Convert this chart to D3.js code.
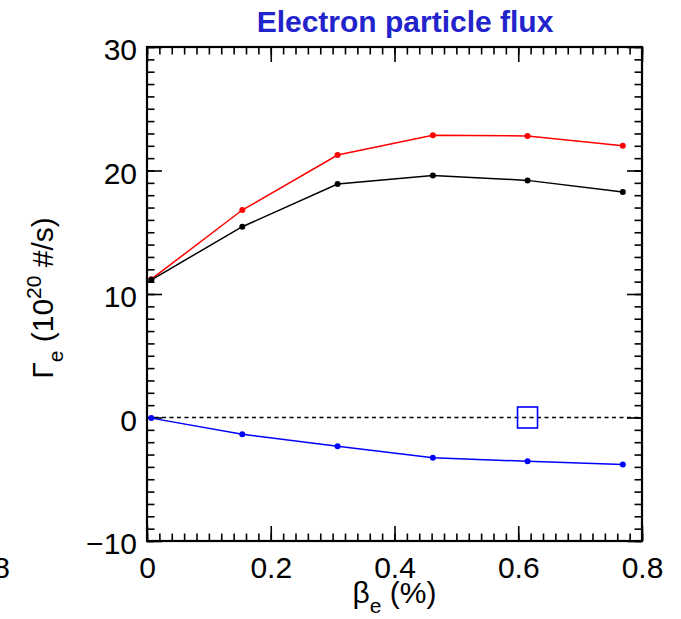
<!DOCTYPE html>
<html>
<head>
<meta charset="utf-8">
<script src="https://cdn.jsdelivr.net/npm/d3@7"></script>
<style>
  body { margin: 0; background: #fff; }
  svg { font-family: "Liberation Sans", Arial, Helvetica, sans-serif; }
</style>
</head>
<body>
<div id="chart"></div>
<script>
// beta_e (%) for each run
const betaVals = [0.007, 0.154, 0.308, 0.462, 0.615, 0.769];
// particle flux, 10^20 #/s
const fluxRed = [11.2, 16.8, 21.25, 22.85, 22.8, 22.0];
const fluxBlack = [11.15, 15.45, 18.9, 19.6, 19.2, 18.25];
const fluxBlue = [-0.05, -1.35, -2.33, -3.25, -3.55, -3.8];
// single square marker
const markX = [0.615];
const markY = [0];

const xTicks = [0, 0.2, 0.4, 0.6, 0.8];
const yTicks = [-10, 0, 10, 20, 30];

const cfg = {
    width: 681,
    height: 619,
    margin: { top: 47, right: 39, bottom: 78, left: 147 },
    major: 15,
    minor: 7.5,
    font: "30px"
};

const w = cfg.width - cfg.margin.left - cfg.margin.right,
    h = cfg.height - cfg.margin.top - cfg.margin.bottom;

const x = d3.scaleLinear().domain([0, 0.8]).range([0, w]);
const y = d3.scaleLinear().domain([-10, 30]).range([h, 0]);

const root = d3.select("#chart").append("svg")
    .attr("width", cfg.width)
    .attr("height", cfg.height);

const svg = root.append("g")
    .attr("transform", "translate(" + cfg.margin.left + "," + cfg.margin.top + ")");

// minor ticks (every 0.02 on x, every 1 on y)
const xMinor = d3.range(0, 0.8001, 0.02);
const yMinor = d3.range(-10, 30.001, 1);

function styleAxis(g) {
    g.select(".domain").remove();
    g.selectAll("line").attr("stroke", "#000").attr("stroke-width", 1.6);
    g.selectAll("text").attr("fill", "#000").style("font-size", cfg.font);
}

// bottom
svg.append("g").attr("transform", "translate(0," + h + ")")
    .call(d3.axisBottom(x).tickValues(xMinor).tickSize(-cfg.minor).tickFormat(""))
    .call(styleAxis);
svg.append("g").attr("transform", "translate(0," + h + ")")
    .call(d3.axisBottom(x).tickValues(xTicks).tickSize(-cfg.major).tickPadding(16).tickFormat(d3.format("")))
    .call(styleAxis);
// top
svg.append("g")
    .call(d3.axisTop(x).tickValues(xMinor).tickSize(-cfg.minor).tickFormat(""))
    .call(styleAxis);
svg.append("g")
    .call(d3.axisTop(x).tickValues(xTicks).tickSize(-cfg.major).tickFormat(""))
    .call(styleAxis);
// left
svg.append("g")
    .call(d3.axisLeft(y).tickValues(yMinor).tickSize(-cfg.minor).tickFormat(""))
    .call(styleAxis);
svg.append("g")
    .call(d3.axisLeft(y).tickValues(yTicks).tickSize(-cfg.major).tickPadding(10))
    .call(styleAxis)
    .selectAll("text").attr("dy", "0.42em");
// right
svg.append("g").attr("transform", "translate(" + w + ",0)")
    .call(d3.axisRight(y).tickValues(yMinor).tickSize(-cfg.minor).tickFormat(""))
    .call(styleAxis);
svg.append("g").attr("transform", "translate(" + w + ",0)")
    .call(d3.axisRight(y).tickValues(yTicks).tickSize(-cfg.major).tickFormat(""))
    .call(styleAxis);

// frame
svg.append("rect")
    .attr("width", w).attr("height", h)
    .attr("fill", "none").attr("stroke", "#000").attr("stroke-width", 2.2);

// zero line
svg.append("line")
    .attr("x1", 0).attr("x2", w)
    .attr("y1", y(0)).attr("y2", y(0))
    .attr("stroke", "#000").attr("stroke-width", 1.4)
    .attr("stroke-dasharray", "4,3.5");

const line = d3.line()
    .x((d) => x(d[0]))
    .y((d) => y(d[1]));

const series = [
    { vals: fluxRed, color: "#ff0000" },
    { vals: fluxBlack, color: "#000000" },
    { vals: fluxBlue, color: "#0000ff" }
];

series.forEach((s) => {
    const pts = betaVals.map((b, i) => [b, s.vals[i]]);
    svg.append("path")
        .datum(pts)
        .attr("fill", "none")
        .attr("stroke", s.color)
        .attr("stroke-width", 1.5)
        .attr("d", line);
    svg.selectAll(null)
        .data(pts)
        .enter()
        .append("circle")
        .attr("cx", (d) => x(d[0]))
        .attr("cy", (d) => y(d[1]))
        .attr("r", 3)
        .attr("fill", s.color);
});

// square marker
svg.selectAll(null)
    .data(markX.map((v, i) => [v, markY[i]]))
    .enter()
    .append("rect")
    .attr("x", (d) => x(d[0]) - 10)
    .attr("y", (d) => y(d[1]) - 10.5)
    .attr("width", 20)
    .attr("height", 21)
    .attr("fill", "none")
    .attr("stroke", "#0000ff")
    .attr("stroke-width", 1.6);

// title
root.append("text")
    .attr("x", 405)
    .attr("y", 32)
    .attr("text-anchor", "middle")
    .attr("fill", "#2323cc")
    .style("font-size", "30px")
    .style("font-weight", "bold")
    .text("Electron particle flux");

// x label
const xl = root.append("text")
    .attr("x", cfg.margin.left + w / 2)
    .attr("y", 603)
    .attr("text-anchor", "middle")
    .attr("fill", "#000")
    .style("font-size", cfg.font);
xl.append("tspan").text("\u03b2");
xl.append("tspan").attr("dy", 10).style("font-size", "21px").text("e");
xl.append("tspan").attr("dy", -10).text(" (%)");

// y label
const yl = root.append("text")
    .attr("transform", "translate(53,298) rotate(-90)")
    .attr("text-anchor", "middle")
    .attr("fill", "#000")
    .style("font-size", cfg.font);
yl.append("tspan").text("\u0393");
yl.append("tspan").attr("dy", 10).style("font-size", "21px").text("e");
yl.append("tspan").attr("dy", -10).text(" (10");
yl.append("tspan").attr("dy", -12).style("font-size", "21px").text("20");
yl.append("tspan").attr("dy", 12).text(" #/s)");

// clipped label from the neighbouring panel
root.append("text")
    .attr("x", 10)
    .attr("y", 578)
    .attr("text-anchor", "end")
    .attr("fill", "#000")
    .style("font-size", cfg.font)
    .text("0.8");
</script>
</body>
</html>
